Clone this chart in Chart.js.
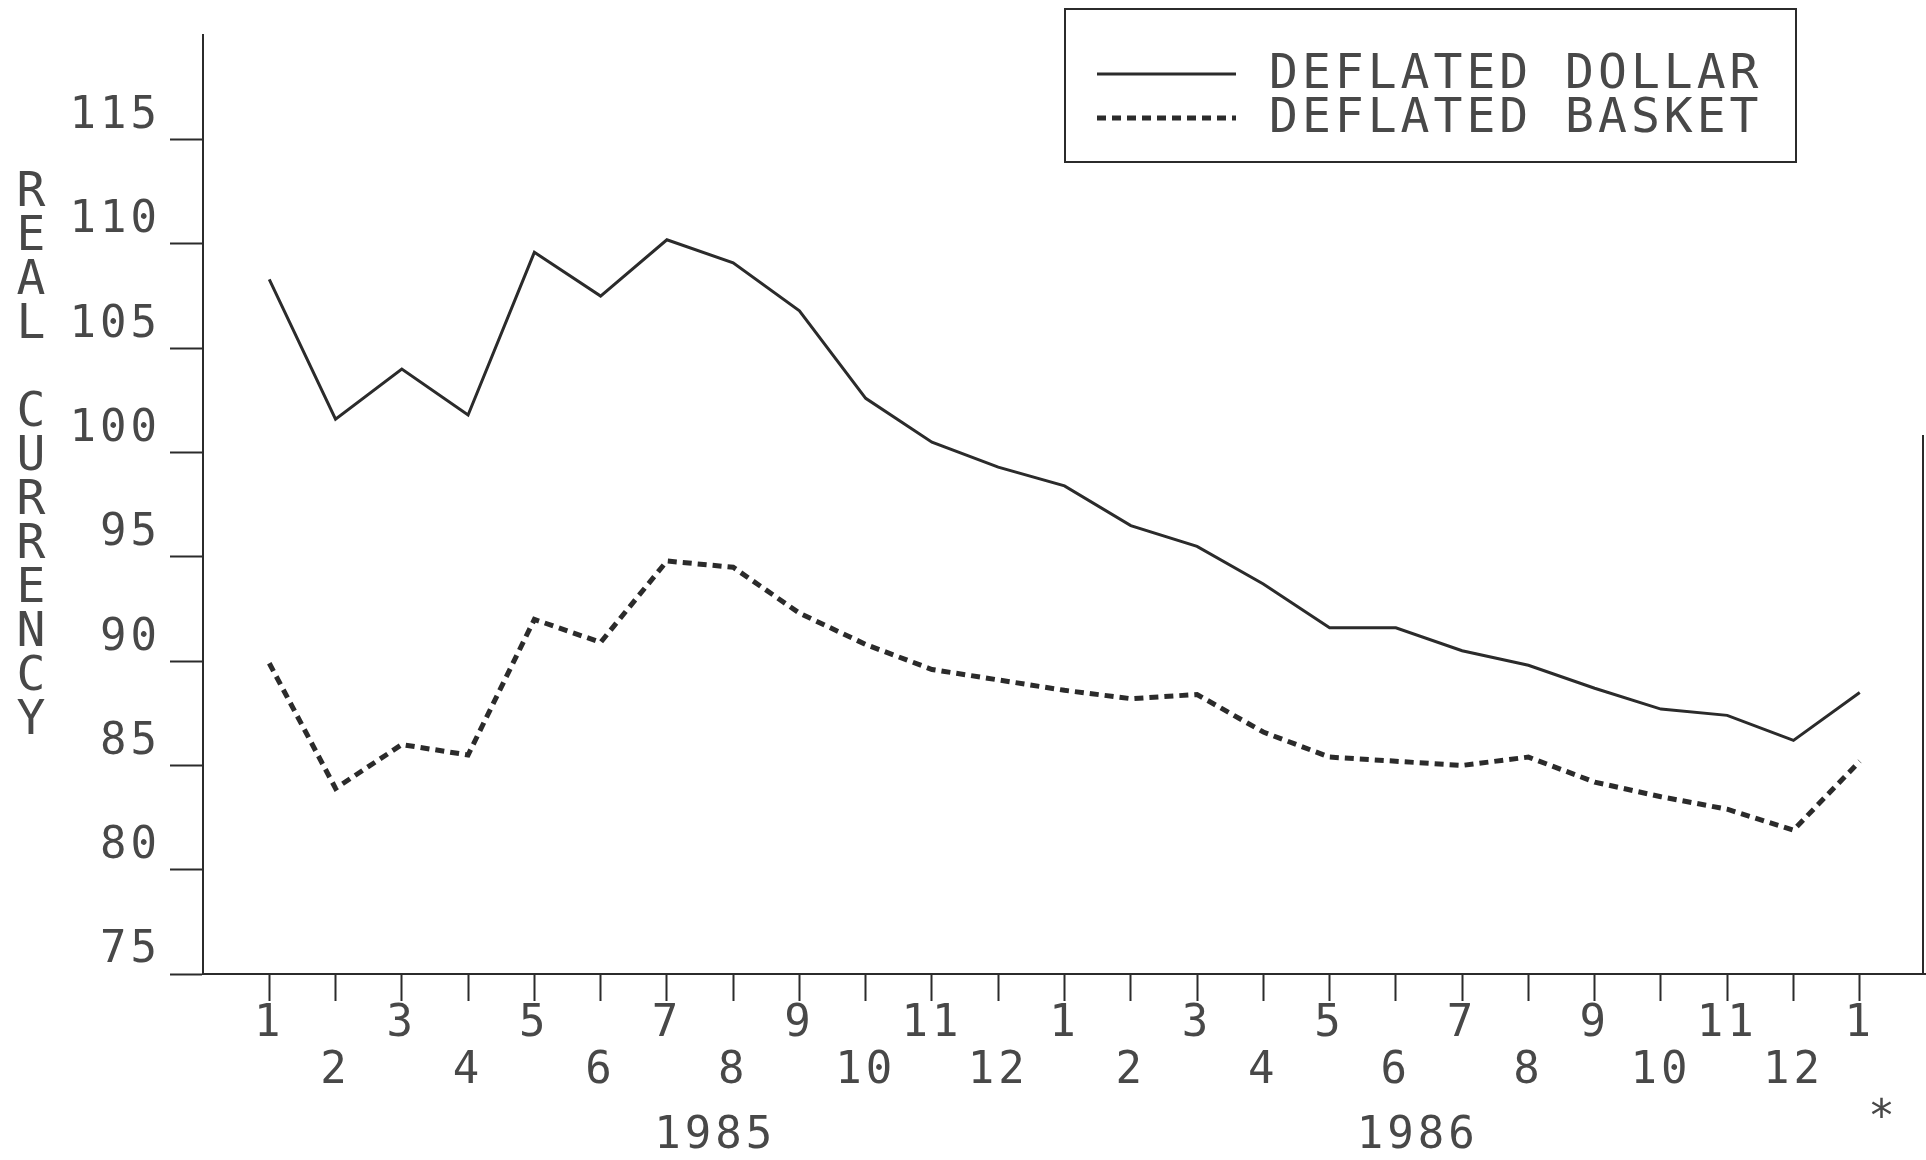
<!DOCTYPE html>
<html>
<head>
<meta charset="utf-8">
<script src="https://cdn.jsdelivr.net/npm/chart.js@4.4.1/dist/chart.umd.min.js"></script>
<style>
html,body{margin:0;padding:0;background:#fff;}
#wrap{width:1926px;height:1160px;}
</style>
</head>
<body>
<div id="wrap"><canvas id="currencyChart" width="1926" height="1160"></canvas></div>
<script>
// Jan 1985 .. Jan 1987
const months = ['1','2','3','4','5','6','7','8','9','10','11','12',
                '1','2','3','4','5','6','7','8','9','10','11','12','1'];
const dollar = [108.3,101.6,104.0,101.8,109.6,107.5,110.2,109.1,106.8,102.6,100.5,99.3,
                98.4,96.5,95.5,93.7,91.6,91.6,90.5,89.8,88.7,87.7,87.4,86.2,88.5];
const basket = [89.9,83.9,86.0,85.5,92.0,90.9,94.8,94.5,92.3,90.8,89.6,89.1,
                88.6,88.2,88.4,86.6,85.4,85.2,85.0,85.4,84.2,83.5,82.9,81.9,85.2];
const yTicks = [75,80,85,90,95,100,105,110,115];
const years = ['1985','1986'];
const yearAt = [6.7, 17.3];   // position on the month axis
const yTitle = 'REAL CURRENCY';

const FONT = '"DejaVu Sans Mono", "Liberation Mono", monospace';
const INK = '#2b2b2b';
const TEXT = '#484848';

const pts = arr => arr.map((v,i)=>({x:i,y:v}));

// extra drawing: axis title, years, legend box, frame edge
const decor = {
    id:'decor',
    beforeDraw(chart){ chart.ctx.letterSpacing = '4px'; },
    afterDraw(chart){
        const ctx = chart.ctx, xs = chart.scales.x;
        ctx.save();
        ctx.fillStyle = TEXT;
        ctx.strokeStyle = INK;
        ctx.textAlign = 'center';
        ctx.textBaseline = 'middle';

        // stacked y title
        ctx.letterSpacing = '0px';
        ctx.font = '48px ' + FONT;
        yTitle.split('').forEach((c,i)=>{ ctx.fillText(c, 31, 194 + i*44); });

        // years + star
        ctx.letterSpacing = '4px';
        ctx.font = '44px ' + FONT;
        years.forEach((y,i)=> ctx.fillText(y, xs.getPixelForValue(yearAt[i]) + 2, 1137));
        ctx.fillText('*', xs.getPixelForValue(24.3) + 4, 1120);

        // legend
        ctx.lineWidth = 2;
        ctx.strokeRect(1065, 9, 731, 153);
        const rows = [74, 118];
        chart.data.datasets.forEach((ds,i)=>{
            ctx.save();
            ctx.lineWidth = ds.borderWidth;
            ctx.setLineDash(ds.borderDash || []);
            ctx.beginPath();
            ctx.moveTo(1097, rows[i]);
            ctx.lineTo(1236, rows[i]);
            ctx.stroke();
            ctx.restore();
            ctx.textAlign = 'left';
            ctx.font = '48px ' + FONT;
            ctx.fillText(ds.label, 1269, rows[i] + 2);
        });

        // right frame edge
        ctx.lineWidth = 2;
        ctx.beginPath();
        ctx.moveTo(1923, 435);
        ctx.lineTo(1923, chart.chartArea.bottom);
        ctx.stroke();
        ctx.restore();
    }
};

const ctx = document.getElementById('currencyChart').getContext('2d');
new Chart(ctx, {
    type:'line',
    data:{
        datasets:[
            {label:'DEFLATED DOLLAR', data:pts(dollar), borderColor:INK, borderWidth:3, pointRadius:0, tension:0},
            {label:'DEFLATED BASKET', data:pts(basket), borderColor:INK, borderWidth:5, borderDash:[9,6], pointRadius:0, tension:0}
        ]
    },
    options:{
        responsive:false,
        animation:false,
        layout:{padding:{top:34, right:0, left:0, bottom:0}},
        plugins:{legend:{display:false}, tooltip:{enabled:false}},
        scales:{
            x:{
                type:'linear', min:-1, max:25,
                afterBuildTicks: s => { s.ticks = months.map((m,i)=>({value:i})); },
                afterFit: s => { s.height = 186; },
                ticks:{
                    autoSkip:false, maxRotation:0, minRotation:0, padding:0, color:TEXT,
                    font:{family:FONT, size:44, lineHeight:1.07},
                    callback: v => (v % 2 === 0 ? [months[v], ''] : ['', months[v]])
                },
                grid:{drawOnChartArea:false, drawTicks:true, tickLength:27, tickColor:INK, tickWidth:2},
                border:{display:true, color:INK, width:2}
            },
            y:{
                min:75, max:120,
                afterBuildTicks: s => { s.ticks = yTicks.map(v=>({value:v})); },
                afterFit: s => { s.width = 203; },
                ticks:{padding:9, labelOffset:-23, color:TEXT, font:{family:FONT, size:44}, callback: v => String(v)},
                grid:{drawOnChartArea:false, drawTicks:true, tickLength:33, tickColor:INK, tickWidth:2},
                border:{display:true, color:INK, width:2}
            }
        }
    },
    plugins:[decor]
});
</script>
</body>
</html>
